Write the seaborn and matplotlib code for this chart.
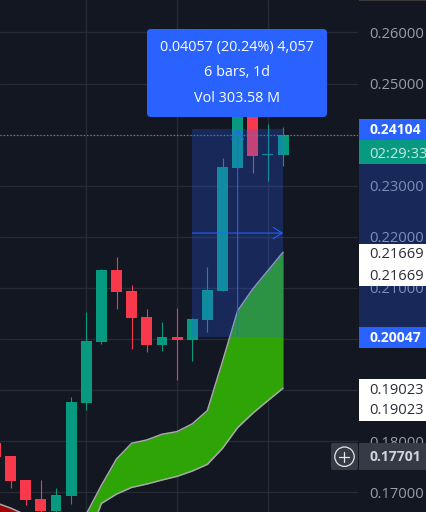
import matplotlib
matplotlib.use("Agg")
import matplotlib.pyplot as plt
from matplotlib.patches import FancyBboxPatch, Rectangle, Circle
import seaborn as sns
import numpy as np

# candles
idx = [0, 1, 2, 3, 4, 5, 6, 7, 8, 9, 10, 11, 12, 13, 14, 15, 16, 17, 18, 19]
opens = [.17974, .17712, .17242, .16869, .16634, .16928, .18752, .19948, .21359, .20948,
         .20438, .19889, .20046, .19987, .20379, .20948, .23354, .24700, .23610, .23603]
closes = [.17699, .17229, .16856, .16634, .16948, .18771, .19967, .21359, .20928, .20418,
          .19889, .20046, .19987, .20399, .20967, .23368, .24750, .23589, .23622, .23994]
highs = [.18100, .17712, .17242, .17242, .17085, .18869, .20536, .21379, .21614, .21065,
         .20595, .20340, .20614, .20418, .21418, .23544, .24900, .24800, .24209, .24151]
lows = [.17600, .17092, .16752, .16614, .16600, .16771, .18614, .19908, .20595, .19810,
        .19752, .19771, .19203, .19575, .20144, .20948, .23354, .23256, .23100, .23393]

# cloud
cloud_x = [6, 7, 8, 9, 10, 11, 12, 13, 14, 15, 16, 17, 18, 19]
cloud_top = [.16575, .17137, .17654, .17961, .18026, .18137, .18190, .18340, .18601,
             .19562, .20556, .20980, .21340, .21699]
cloud_bot = [.16000, .16784, .16967, .17098, .17163, .17242, .17314, .17418, .17549,
             .17863, .18268, .18549, .18797, .19039]
red_x = [0, 1, 2]
red_top = [.16800, .16693, .16560]
red_bot = [.16000, .16000, .16000]

price_ticks = [.17, .18, .19, .20, .21, .22, .23, .24, .25, .26]
# these three sit fully under the scale labels
covered_ticks = [.19, .20, .24]
time_ticks = [6, 12, 18]
last_price = .23994
sel_start = 13
sel_end = 19
sel_low = .20047
sel_high = .24104

BG = "#131722"
GRID = "#272b36"
UP = "#089981"
DOWN = "#f7394b"
BLUE = "#2962ff"
FS = 10.6

sns.set_theme(style="dark")
plt.rcParams["font.family"] = ["Open Sans", "DejaVu Sans"]

fig = plt.figure(figsize=(4.27, 5.12), dpi=100, facecolor=BG)
ax = fig.add_axes([0, 0, 358 / 427, 1], facecolor=BG)

# red and green cloud
ax.fill_between(red_x, red_bot, red_top, color="#a00505", lw=0, zorder=1)
sns.lineplot(x=red_x, y=red_top, color="#a8a8a8", lw=1.1, ax=ax, zorder=1.2)
ax.fill_between(cloud_x, cloud_bot, cloud_top, color="#2ea407", lw=0, zorder=1)
sns.lineplot(x=cloud_x, y=cloud_top, color="#a8a8a8", lw=1.1, ax=ax, zorder=1.2)
sns.lineplot(x=cloud_x, y=cloud_bot, color="#a8a8a8", lw=1.1, ax=ax, zorder=1.2)

# candles
colors = [UP if c >= o else DOWN for o, c in zip(opens, closes)]
ax.vlines(idx, lows, highs, colors=colors, lw=0.8, zorder=2)
bottoms = np.minimum(opens, closes)
heights = np.abs(np.array(closes) - np.array(opens))
ax.bar(idx, heights, bottom=bottoms, width=0.72, color=colors, lw=0, zorder=2.1)

# last price line
ax.axhline(last_price, color="#4f9d90", lw=0.8, ls=(0, (1, 2)), zorder=2.2)

# measure selection
ax.add_patch(Rectangle((sel_start, sel_low), sel_end - sel_start, sel_high - sel_low,
                       color=BLUE, alpha=0.25, lw=0, zorder=3))
sel_mid_x = (sel_start + sel_end) / 2
sel_mid_y = (sel_low + sel_high) / 2
arrow = dict(arrowstyle="->,head_length=0.55,head_width=0.35", color=BLUE, lw=0.72,
             shrinkA=0, shrinkB=0)
ax.annotate("", xy=(sel_mid_x, sel_high), xytext=(sel_mid_x, sel_low), arrowprops=arrow, zorder=3.1)
ax.annotate("", xy=(sel_end, sel_mid_y), xytext=(sel_start, sel_mid_y), arrowprops=arrow, zorder=3.1)

ax.set_xlim(0.30, 23.95)
ax.set_ylim(0.16616, 0.26636)
ax.set_xticks(time_ticks)
ax.set_xticklabels([])
ax.set_yticks(price_ticks)
ax.set_yticklabels(["" if p in covered_ticks else f"{p:.5f}" for p in price_ticks])
ax.yaxis.tick_right()
ax.tick_params(axis="y", length=0, pad=8, labelsize=FS, labelcolor="#9b9ea6")
ax.tick_params(axis="x", length=0)
ax.grid(True, color=GRID, lw=1)
ax.set_axisbelow(True)
for s in ax.spines.values():
    s.set_visible(False)

# overlay in pixel coordinates for tooltip and scale labels
ov = fig.add_axes([0, 0, 1, 1], facecolor="none", zorder=5)
ov.set_xlim(0, 427)
ov.set_ylim(512, 0)
ov.axis("off")


def box(y0, y1, color, x0=359, x1=427, z=1):
    ov.add_patch(Rectangle((x0, y0), x1 - x0, y1 - y0, color=color, lw=0, zorder=z))


def label(y, txt, color, weight="normal", z=2):
    size = 10.0 if weight == "bold" else FS
    ov.text(369.5, y, txt, color=color, fontsize=size, fontweight=weight, ha="left", va="center",
            zorder=z, clip_on=True)


ov.add_patch(Rectangle((359, 129), 68, 208, color=BLUE, alpha=0.25, lw=0, zorder=0.5))
box(0, 1, "#3a3a3a")

# last price and countdown
box(129, 164, UP, z=1)
label(136, "0.23994", "#ffffff", z=1.5)
label(154, "02:29:33", "#c6e9e2")
box(119, 140, BLUE, z=1.8)
label(130, "0.24104", "#ffffff", "bold")

box(244, 286, "#ffffff")
label(255, "0.21669", "#2a2e39")
label(276, "0.21669", "#2a2e39")
box(327, 348, BLUE)
label(338, "0.20047", "#ffffff", "bold")
box(379, 421, "#ffffff")
label(390, "0.19023", "#2a2e39")
label(411, "0.19023", "#2a2e39")

# crosshair label and plus button
box(443, 470, "#363a45")
label(457, "0.17701", "#d1d4dc", "bold")
ov.add_patch(FancyBboxPatch((333, 445), 23, 23, boxstyle="round,pad=2,rounding_size=2",
                            fc="#363a45", ec="none", zorder=1))
ov.add_patch(Circle((344.5, 456.7), 9.7, fc="none", ec="#e6e6e6", lw=0.9, zorder=2))
ov.plot([339.5, 349.5], [456.7, 456.7], color="#e6e6e6", lw=0.9, zorder=2)
ov.plot([344.5, 344.5], [451.7, 461.7], color="#e6e6e6", lw=0.9, zorder=2)

# measure tooltip
ov.add_patch(FancyBboxPatch((151, 33), 172, 80, boxstyle="round,pad=4,rounding_size=4",
                            fc=BLUE, ec="none", zorder=4))
ov.text(237, 48, "0.04057 (20.24%) 4,057", color="white", fontsize=10.4, ha="center", va="center", zorder=5)
ov.text(237, 73, "6 bars, 1d", color="white", fontsize=10.4, ha="center", va="center", zorder=5)
ov.text(237, 98, "Vol 303.58 M", color="white", fontsize=10.4, ha="center", va="center", zorder=5)

fig.savefig("out.png", dpi=100, facecolor=BG)
